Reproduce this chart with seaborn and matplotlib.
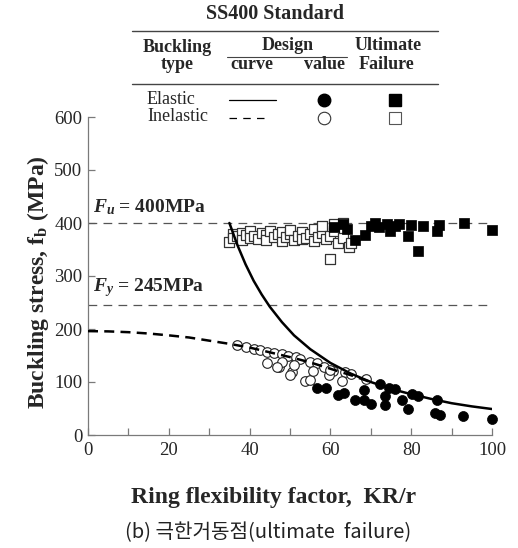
import numpy as np
import pandas as pd
import matplotlib
matplotlib.use("Agg")
import matplotlib.pyplot as plt
from matplotlib.lines import Line2D
import seaborn as sns

# ---------------- data ----------------
elastic_x = [35, 37, 39, 41, 43, 45, 48, 51, 55, 60, 65, 70, 75, 80, 85, 90, 95, 100]
elastic_y = [400, 358, 322, 291, 265, 242, 213, 188, 162, 136, 116, 100, 87, 77, 68, 60, 54, 49]

inelastic_x = [0, 5, 10, 15, 20, 25, 30, 35, 40, 45, 50, 55, 60, 65, 70.7]
inelastic_y = [196, 195.5, 194, 191.5, 188, 184, 178, 172, 165, 156, 147, 137, 125, 113, 98]

design_el_x = [56.7, 59.0, 62.0, 63.3, 66.2, 68.4, 68.4, 70.0, 72.2, 73.6, 73.6, 74.6, 76.0,
               77.7, 79.2, 80.1, 81.6, 86.3, 85.9, 87.2, 92.9, 99.9]
design_el_y = [88, 88, 75, 79, 66, 85, 66, 58, 96, 74, 57, 88, 86,
               66, 50, 77, 74, 66, 42, 38, 36, 31]

design_in_x = [37.0, 39.0, 41.0, 42.5, 44.4, 46.0, 48.0, 49.5, 51.4, 52.5, 55.0, 56.6, 58.3,
               60.7, 63.7, 65.0, 68.9, 44.4, 47.2, 48.0, 50.5, 50.1, 50.9, 53.8, 55.0,
               55.7, 59.6, 60.0, 62.9, 46.8]
design_in_y = [170, 166, 163, 160, 157, 155, 152, 149, 147, 143, 138, 135, 129,
               121, 118, 115, 105, 135, 128, 138, 118, 113, 132, 101, 104,
               121, 113, 122, 101, 129]

ult_el_x = [61, 63, 64, 66, 68.6, 70, 71, 72, 74, 74.8, 76, 77, 79.2, 80, 81.7, 83, 86.3, 87, 93, 100]
ult_el_y = [392, 398, 388, 367, 377, 395, 400, 393, 398, 385, 394, 398, 375, 396, 348, 395, 384, 396, 400, 387]

ult_in_x = [35, 36, 36, 37, 38, 38, 39, 40, 40, 41, 42, 43, 44, 44, 45, 46, 47, 48, 48, 49,
            50, 50, 51, 52, 53, 53, 54, 55, 56, 56, 57, 58, 58, 59, 60, 60, 61, 61, 62, 63,
            63, 64.5, 65]
ult_in_y = [365, 380, 371, 375, 382, 368, 378, 384, 372, 376, 370, 381, 377, 368, 385, 373, 379, 366, 383, 374,
            380, 387, 368, 376, 383, 370, 372, 379, 366, 388, 374, 381, 395, 369, 376, 333, 385, 398, 362, 372,
            400, 355, 362]

fu_value = 400
fy_value = 245

x_ticks = [0, 10, 20, 30, 40, 50, 60, 70, 80, 90, 100]
x_tick_labels = ["0", "", "20", "", "40", "", "60", "", "80", "", "100"]
y_ticks = [0, 100, 200, 300, 400, 500, 600]
y_tick_labels = ["0", "100", "200", "300", "400", "500", "600"]

# ---------------- style ----------------
sns.set_style("ticks")
SERIF = "Liberation Serif"
plt.rcParams["font.family"] = [SERIF, "DejaVu Serif"]
plt.rcParams["mathtext.fontset"] = "custom"
plt.rcParams["mathtext.rm"] = "Liberation Serif:bold"
plt.rcParams["mathtext.it"] = "Liberation Serif:italic:bold"
plt.rcParams["mathtext.bf"] = "Liberation Serif:bold"

W, H = 518, 548
fig = plt.figure(figsize=(W / 100, H / 100), dpi=100)
ax = fig.add_axes([88 / W, 1 - 435 / H, (492 - 88) / W, (435 - 117) / H])

def fx(px):
    return px / W

def fy(py):
    return 1 - py / H

AXC = "#7a7a7a"

# reference lines
ax.axhline(fu_value, color="#555555", lw=0.9, dashes=(7, 5), zorder=1)
ax.axhline(fy_value, color="#555555", lw=0.9, dashes=(7, 5), zorder=1)

# scatter data
df_ui = pd.DataFrame({"x": ult_in_x, "y": ult_in_y})
df_ue = pd.DataFrame({"x": ult_el_x, "y": ult_el_y})
df_di = pd.DataFrame({"x": design_in_x, "y": design_in_y})
df_de = pd.DataFrame({"x": design_el_x, "y": design_el_y})

sns.scatterplot(data=df_ui, x="x", y="y", ax=ax, marker="s", s=46, color="white",
                edgecolor="#333333", linewidth=0.9, zorder=2, clip_on=False)
sns.scatterplot(data=df_ue, x="x", y="y", ax=ax, marker="s", s=46, color="black",
                edgecolor="black", linewidth=0.5, zorder=2, clip_on=False)
sns.scatterplot(data=df_di, x="x", y="y", ax=ax, marker="o", s=48, color="white",
                edgecolor="#222222", linewidth=0.8, zorder=2, clip_on=False)
sns.scatterplot(data=df_de, x="x", y="y", ax=ax, marker="o", s=52, color="black",
                edgecolor="black", linewidth=0.5, zorder=2, clip_on=False)

# design curves
df_el = pd.DataFrame({"x": elastic_x, "y": elastic_y})
df_in = pd.DataFrame({"x": inelastic_x, "y": inelastic_y})
sns.lineplot(data=df_el, x="x", y="y", ax=ax, sort=False, estimator=None,
             color="black", linewidth=1.8, zorder=3)
sns.lineplot(data=df_in, x="x", y="y", ax=ax, sort=False, estimator=None,
             color="black", linewidth=1.8, zorder=3)
ax.lines[-1].set_dashes([4, 2.5])

# axes
ax.set_xlim(0, 100)
ax.set_ylim(0, 600)
ax.set_xticks(x_ticks)
ax.set_xticklabels(x_tick_labels, fontsize=13.5)
ax.set_yticks(y_ticks)
ax.set_yticklabels(y_tick_labels, fontsize=13.5)
ax.tick_params(axis="both", direction="in", length=5, width=0.9, color=AXC, pad=5)
ax.tick_params(axis="y", pad=4)
for side in ["top", "right"]:
    ax.spines[side].set_visible(False)
for side in ["left", "bottom"]:
    ax.spines[side].set_color(AXC)
    ax.spines[side].set_linewidth(0.9)
ax.set_xlabel("")
ax.set_ylabel("")

# F labels
ax.text(1.3, 412, r"$F_u$ = 400MPa", fontsize=14, fontweight="bold", ha="left", va="bottom")
ax.text(1.3, 257, r"$F_y$ = 245MPa", fontsize=14, fontweight="bold", ha="left", va="bottom")

# axis labels
fig.text(fx(274), fy(498), "Ring flexibility factor,  KR/r", fontsize=17, fontweight="bold",
         ha="center", va="center")
fig.text(fx(38), fy(282), r"Buckling stress, f$_\mathbf{b}$ (MPa)", fontsize=17,
         fontweight="bold", ha="center", va="center", rotation=90)

# caption
fig.text(fx(268), fy(533), "(b) 극한거동점(ultimate  failure)", fontsize=14.5,
         family=["Noto Sans CJK KR", "DejaVu Sans"], ha="center", va="center", color="#222222")

# legend table
LFS = 13
fig.text(fx(275), fy(14), "SS400 Standard", fontsize=14.5, fontweight="bold", ha="center", va="center")
fig.add_artist(Line2D([fx(132), fx(438)], [fy(31), fy(31)], color="#444444", lw=1.0))
fig.text(fx(177), fy(47), "Buckling", fontsize=LFS, fontweight="bold", ha="center", va="center")
fig.text(fx(177), fy(65), "type", fontsize=LFS, fontweight="bold", ha="center", va="center")
fig.text(fx(288), fy(46), "Design", fontsize=LFS, fontweight="bold", ha="center", va="center")
fig.add_artist(Line2D([fx(227), fx(347)], [fy(57), fy(57)], color="#444444", lw=0.8))
fig.text(fx(252), fy(65), "curve", fontsize=LFS, fontweight="bold", ha="center", va="center")
fig.text(fx(324), fy(65), "value", fontsize=LFS, fontweight="bold", ha="center", va="center")
fig.text(fx(388), fy(46), "Ultimate", fontsize=LFS, fontweight="bold", ha="center", va="center")
fig.text(fx(387), fy(65), "Failure", fontsize=LFS, fontweight="bold", ha="center", va="center")
fig.add_artist(Line2D([fx(132), fx(438)], [fy(84), fy(84)], color="#444444", lw=1.0))

fig.text(fx(147), fy(99), "Elastic", fontsize=LFS, ha="left", va="center")
fig.text(fx(147), fy(117), "Inelastic", fontsize=LFS, ha="left", va="center")
fig.add_artist(Line2D([fx(229), fx(276)], [fy(100), fy(100)], color="black", lw=0.9))
fig.add_artist(Line2D([fx(229), fx(268)], [fy(118), fy(118)], color="black", lw=0.9,
                      dashes=(6, 5)))
fig.add_artist(Line2D([fx(324)], [fy(100)], marker="o", ms=9, mfc="black", mec="black", ls=""))
fig.add_artist(Line2D([fx(324)], [fy(118)], marker="o", ms=9, mfc="white", mec="#333333",
                      mew=0.8, ls=""))
fig.add_artist(Line2D([fx(395)], [fy(100)], marker="s", ms=8, mfc="black", mec="black", ls=""))
fig.add_artist(Line2D([fx(395)], [fy(118)], marker="s", ms=8, mfc="white", mec="#555555",
                      mew=0.8, ls=""))

fig.savefig("out.png", dpi=100)
